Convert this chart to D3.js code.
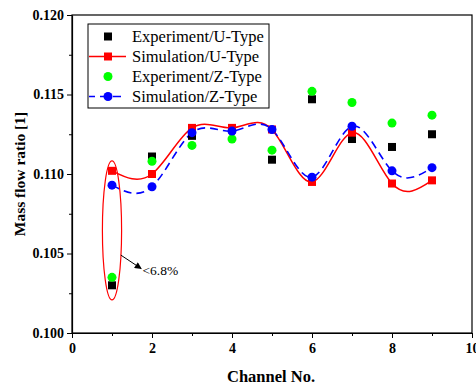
<!DOCTYPE html>
<html>
<head>
<meta charset="utf-8">
<script src="https://cdn.jsdelivr.net/npm/d3@7"></script>
<style>
  body { margin: 0; background: #fff; }
  text { font-family: 'Liberation Serif', 'Times New Roman', serif; }
</style>
</head>
<body>
<svg id="chart" width="476" height="388"></svg>
<script>
'use strict';

// channel numbers and mass flow ratios
const channels = [1, 2, 3, 4, 5, 6, 7, 8, 9];
const expU = [0.1030, 0.1111, 0.1124, 0.1128, 0.1109, 0.1147, 0.1122, 0.1117, 0.1125];
const simU = [0.1102, 0.1100, 0.1129, 0.1129, 0.1128, 0.1095, 0.1126, 0.1094, 0.1096];
const expZ = [0.1035, 0.1108, 0.1118, 0.1122, 0.1115, 0.1152, 0.1145, 0.1132, 0.1137];
const simZ = [0.1093, 0.1092, 0.1126, 0.1127, 0.1128, 0.1098, 0.1130, 0.1102, 0.1104];
const xTicks = [0, 2, 4, 6, 8, 10];
const yTicks = [0.100, 0.105, 0.110, 0.115, 0.120];
const legendLabels = ['Experiment/U-Type', 'Simulation/U-Type', 'Experiment/Z-Type', 'Simulation/Z-Type'];
const note = '<6.8%';

const svg = d3.select('#chart');
const margin = { top: 15, right: 4, bottom: 55, left: 72 };
const width = 476 - margin.left - margin.right;
const height = 388 - margin.top - margin.bottom;

const x = d3.scaleLinear().domain([0, 10]).range([0, width]);
const y = d3.scaleLinear().domain([0.100, 0.120]).range([height, 0]);

const g = svg.append('g')
  .attr('transform', 'translate(' + margin.left + ',' + margin.top + ')');

// frame
g.append('rect')
  .attr('width', width)
  .attr('height', height)
  .attr('fill', 'none')
  .attr('stroke', '#000')
  .attr('stroke-width', 1.2);

// minor ticks
g.append('g')
  .attr('transform', 'translate(0,' + height + ')')
  .call(d3.axisBottom(x).tickValues([1, 3, 5, 7, 9]).tickSize(3).tickFormat(''))
  .call((a) => a.select('.domain').remove());
g.append('g')
  .call(d3.axisLeft(y).tickValues([0.1025, 0.1075, 0.1125, 0.1175]).tickSize(3).tickFormat(''))
  .call((a) => a.select('.domain').remove());

// major axes
g.append('g')
  .attr('transform', 'translate(0,' + height + ')')
  .call(d3.axisBottom(x).tickValues(xTicks).tickSize(5).tickSizeOuter(0).tickFormat(d3.format('d')))
  .call((a) => {
    a.select('.domain').attr('stroke-width', 1.2);
    a.selectAll('text')
      .attr('y', 10)
      .style('font-size', '14px')
      .style('font-weight', 'bold')
      .style('font-family', "'Liberation Serif', serif");
  });

g.append('g')
  .call(d3.axisLeft(y).tickValues(yTicks).tickSize(5).tickSizeOuter(0).tickFormat(d3.format('.3f')))
  .call((a) => {
    a.select('.domain').attr('stroke-width', 1.2);
    a.selectAll('text')
      .attr('x', -8)
      .style('font-size', '14px')
      .style('font-weight', 'bold')
      .style('font-family', "'Liberation Serif', serif");
  });

// axis titles
svg.append('text')
  .attr('x', margin.left + width / 2 - 1)
  .attr('y', 382)
  .attr('text-anchor', 'middle')
  .style('font-size', '16.5px')
  .style('font-weight', 'bold')
  .text('Channel No.');

svg.append('text')
  .attr('transform', 'translate(25,174) rotate(-90)')
  .attr('text-anchor', 'middle')
  .style('font-size', '15.5px')
  .style('font-weight', 'bold')
  .text('Mass flow ratio [1]');

// spline lines
const line = d3.line()
  .x((d) => x(d[0]))
  .y((d) => y(d[1]))
  .curve(d3.curveNatural);

g.append('path')
  .attr('d', line(channels.map((c, i) => [c, simU[i]])))
  .attr('fill', 'none')
  .attr('stroke', '#ff0000')
  .attr('stroke-width', 1.5);

g.append('path')
  .attr('d', line(channels.map((c, i) => [c, simZ[i]])))
  .attr('fill', 'none')
  .attr('stroke', '#0000ff')
  .attr('stroke-width', 1.6)
  .attr('stroke-dasharray', '8,5');

// markers
function squares(vals, color) {
  g.selectAll(null)
    .data(vals)
    .enter()
    .append('rect')
    .attr('x', (d, i) => x(channels[i]) - 4)
    .attr('y', (d) => y(d) - 4)
    .attr('width', 8)
    .attr('height', 8)
    .attr('fill', color);
}
function circles(vals, color) {
  g.selectAll(null)
    .data(vals)
    .enter()
    .append('circle')
    .attr('cx', (d, i) => x(channels[i]))
    .attr('cy', (d) => y(d))
    .attr('r', 4.5)
    .attr('fill', color);
}
squares(expU, '#000');
circles(expZ, '#00ff00');
squares(simU, '#ff0000');
circles(simZ, '#0000ff');

// ellipse annotation around channel 1
g.append('ellipse')
  .attr('cx', x(1))
  .attr('cy', y(0.10645))
  .attr('rx', x(1.24) - x(1))
  .attr('ry', y(0.10208) - y(0.10645))
  .attr('fill', 'none')
  .attr('stroke', '#ff0000')
  .attr('stroke-width', 1.2);

svg.append('defs').append('marker')
  .attr('id', 'arrow')
  .attr('viewBox', '0 0 10 10')
  .attr('refX', 9)
  .attr('refY', 5)
  .attr('markerWidth', 9)
  .attr('markerHeight', 7)
  .attr('markerUnits', 'userSpaceOnUse')
  .attr('orient', 'auto')
  .append('path')
  .attr('d', 'M0,0 L10,5 L0,10 Z')
  .attr('fill', '#000');

g.append('line')
  .attr('x1', x(1.22))
  .attr('y1', y(0.1049))
  .attr('x2', x(1.73))
  .attr('y2', y(0.10405))
  .attr('stroke', '#000')
  .attr('stroke-width', 1)
  .attr('marker-end', 'url(#arrow)');

g.append('text')
  .attr('x', x(1.76))
  .attr('y', y(0.10365))
  .style('font-size', '13.5px')
  .text(note);

// legend
const legend = g.append('g').attr('transform', 'translate(16,9)');
legend.append('rect')
  .attr('width', 181)
  .attr('height', 84)
  .attr('fill', '#fff')
  .attr('stroke', '#000')
  .attr('stroke-width', 1);

const items = legend.selectAll('.legend')
  .data(legendLabels)
  .enter()
  .append('g')
  .attr('class', 'legend')
  .attr('transform', (d, i) => 'translate(0,' + (12.5 + i * 20) + ')');

items.filter((d, i) => i === 1 || i === 3)
  .append('line')
  .attr('x1', 1)
  .attr('x2', 38)
  .attr('stroke', (d, i) => (i === 0 ? '#ff0000' : '#0000ff'))
  .attr('stroke-width', 1.5)
  .attr('stroke-dasharray', (d, i) => (i === 0 ? null : '8,5'))
  .attr('stroke-dashoffset', (d, i) => (i === 0 ? null : 2));

items.each(function(d, i) {
  const it = d3.select(this);
  const color = ['#000', '#ff0000', '#00ff00', '#0000ff'][i];
  if (i < 2) {
    it.append('rect').attr('x', 16).attr('y', -4).attr('width', 8).attr('height', 8).attr('fill', color);
  } else {
    it.append('circle').attr('cx', 20).attr('r', 4.5).attr('fill', color);
  }
});

items.append('text')
  .attr('x', 44)
  .attr('y', 5.5)
  .style('font-size', '16.5px')
  .text((d) => d);
</script>
</body>
</html>
